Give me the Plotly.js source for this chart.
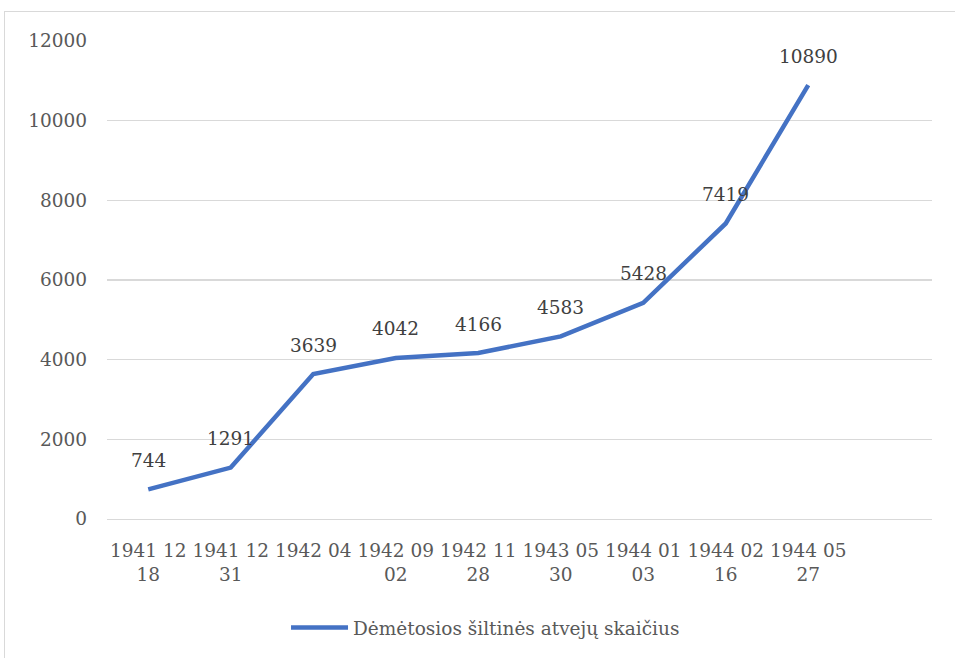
<!DOCTYPE html>
<html><head><meta charset="utf-8">
<script src="https://cdn.plot.ly/plotly-3.0.1.min.js"></script>
<style>
html,body{margin:0;padding:0;background:#fff;}
#frame{position:absolute;left:4px;top:11px;width:1000px;height:700px;border-left:1px solid #d9d9d9;border-top:1px solid #d9d9d9;}
#chart{position:absolute;left:0;top:0;width:955px;height:658px;}
</style></head>
<body>
<div id="frame"></div>
<div id="chart"></div>
<script>
const categories = ["1941 12 18","1941 12 31","1942 04","1942 09 02","1942 11 28","1943 05 30","1944 01 03","1944 02 16","1944 05 27"];
const tickLabels = ["1941 12<br>18","1941 12<br>31","1942 04<br> ","1942 09<br>02","1942 11<br>28","1943 05<br>30","1944 01<br>03","1944 02<br>16","1944 05<br>27"];
const cases = [744,1291,3639,4042,4166,4583,5428,7419,10890];
const seriesName = "Dėmėtosios šiltinės atvejų skaičius";

const fontFam = 'DejaVu Serif';
const fs = 18.5;
const trace = {
  x: categories, y: cases, type: 'scatter', mode: 'lines', name: seriesName,
  line: {color: '#4472C4', width: 4.5}, hoverinfo: 'skip'
};
const annotations = categories.map((c,i)=>({
  x: c, y: cases[i], xref:'x', yref:'y', text: String(cases[i]), showarrow:false,
  yanchor:'middle', xanchor:'center', yshift: 29,
  font:{family:fontFam, size:fs, color:'#404040'}
}));
const layout = {
  width:955, height:658,
  margin:{l:107, r:23, t:41, b:138},
  paper_bgcolor:'rgba(0,0,0,0)', plot_bgcolor:'rgba(0,0,0,0)',
  font:{family:fontFam, size:fs, color:'#595959'},
  xaxis:{type:'category', range:[-0.5,9.5], tickvals:categories, ticktext:tickLabels,
    showgrid:false, showline:true, linecolor:'#d9d9d9', linewidth:1.3, ticks:'', tickangle:0,
    ticklabelstandoff:14, fixedrange:true},
  yaxis:{range:[0,12000], dtick:2000, tickformat:'d', showgrid:true, gridcolor:'#d9d9d9', gridwidth:1.3,
    zeroline:false, ticks:'', ticklabelstandoff:19, fixedrange:true},
  showlegend:true,
  legend:{orientation:'h', x:0.217, xanchor:'left', y:-0.2255, yanchor:'middle',
    font:{family:fontFam, size:fs, color:'#595959'}, itemwidth:57, bgcolor:'rgba(0,0,0,0)'},
  annotations: annotations
};
Plotly.newPlot('chart', [trace], layout, {displayModeBar:false, staticPlot:true});
</script>
</body></html>
